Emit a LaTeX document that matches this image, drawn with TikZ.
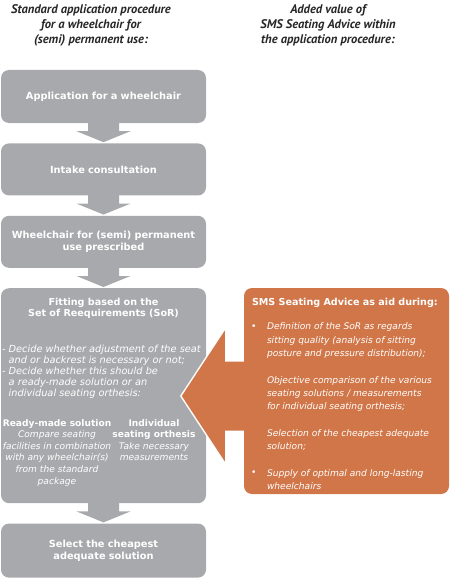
\documentclass[tikz,border=0pt]{standalone}
\usepackage{fontspec}
\setmainfont{DejaVu Sans}
\newfontfamily\headfont{PT Sans}
\usetikzlibrary{positioning}
\definecolor{boxgray}{RGB}{167,169,172}
\definecolor{advorange}{RGB}{208,118,72}

\begin{document}
\begin{tikzpicture}[x=1pt, y=1pt, node distance=20pt,
  stepbox/.style={fill=boxgray, rounded corners=8pt, minimum width=205pt,
    text width=200pt, align=center, text=white, inner sep=0pt,
    font=\bfseries\fontsize{9.8}{11.5}\selectfont},
  head/.style={font=\headfont\bfseries\itshape\fontsize{12.5}{15}\selectfont,
    align=center, text=black!85, inner sep=0pt},
  btitle/.style={text=white, inner sep=0pt, font=\bfseries\fontsize{9.6}{11.5}\selectfont},
  note/.style={text=white, inner sep=0pt, font=\itshape\fontsize{9.8}{11}\selectfont},
  subnote/.style={text=white, inner sep=0pt, align=center, font=\itshape\fontsize{9.1}{11.6}\selectfont},
  advnote/.style={text=white, inner sep=0pt, font=\itshape\fontsize{9.1}{13.3}\selectfont}]
  \useasboundingbox (0,0) rectangle (450,-578);

  % column headers
  \node[head, anchor=north] (lhead) at (91,-4) {Standard application procedure\\ for a wheelchair for\\ (semi) permanent use:};
  \node[head, anchor=north] (rhead) at (328,-4) {Added value of\\ SMS Seating Advice within\\ the application procedure:};

  % standard procedure
  \node[stepbox, minimum height=53pt] (app) at (103.5,-96.5) {Application for a wheelchair};
  \node[stepbox, minimum height=52pt, below=of app] (intake) {Intake consultation};
  \node[stepbox, minimum height=52pt, below=of intake] (presc) {Wheelchair for (semi) permanent\\ use prescribed};
  \node[stepbox, minimum height=215pt, below=of presc] (fit) {};
  \node[stepbox, minimum height=54pt, below=of fit] (select) {Select the cheapest\\ adequate solution};

  \node[btitle, anchor=north, align=center] (fittitle) at ([yshift=-10pt]fit.north) {Fitting based on the\\ Set of Reequirements (SoR)};
  \node[note, anchor=north west, align=left] (decide) at ([shift={(1pt,-56.5pt)}]fit.north west)
    {- Decide whether adjustment of the seat\\
     \phantom{- }and or backrest is necessary or not;\\
     - Decide whether this should be\\
     \phantom{- }a ready-made solution or an\\
     \phantom{- }individual seating orthesis:};
  \node[subnote, anchor=north] (ready) at ([shift={(-46.5pt,-131pt)}]fit.north)
    {{\upshape\bfseries Ready-made solution}\\ Compare seating\\ facilities in combination\\ with any wheelchair(s)\\ from the standard\\ package};
  \node[subnote, anchor=north] (indiv) at ([shift={(50.5pt,-131pt)}]fit.north)
    {{\upshape\bfseries Individual}\\ {\upshape\bfseries seating orthesis}\\ Take necessary\\ measurements};

  \foreach \a/\b in {app/intake, intake/presc, presc/fit, fit/select}
    \fill[boxgray] ([xshift=-15.5pt, yshift=1pt]\a.south) -- ([xshift=-15.5pt, yshift=-8pt]\a.south)
      -- ([xshift=-27pt, yshift=-8pt]\a.south) -- ([yshift=1pt]\b.north)
      -- ([xshift=27pt, yshift=-8pt]\a.south) -- ([xshift=15.5pt, yshift=-8pt]\a.south)
      -- ([xshift=15.5pt, yshift=1pt]\a.south) -- cycle;

  % added value
  \node[fill=advorange, rounded corners=8pt, minimum width=205pt, minimum height=206pt] (adv) at (346.5,-391) {};
  \node[btitle, anchor=north west] (advtitle) at ([shift={(8pt,-10.5pt)}]adv.north west) {SMS Seating Advice as aid during:};
  \node[advnote, anchor=north west, align=left] (advlist) at ([shift={(23pt,-35pt)}]adv.north west)
    {Definition of the SoR as regards\\
     sitting quality (analysis of sitting\\
     posture and pressure distribution);\\[13.3pt]
     Objective comparison of the various\\
     seating solutions / measurements\\
     for individual seating orthesis;\\[13.3pt]
     Selection of the cheapest adequate\\
     solution;\\[13.3pt]
     Supply of optimal and long-lasting\\
     wheelchairs};
  \node[advnote, anchor=base] (bul1) at ([shift={(10pt,-42pt)}]adv.north west) {\textbullet};
  \node[advnote, anchor=base] (bul2) at ([shift={(10pt,-188pt)}]adv.north west) {\textbullet};

  % block arrow into the fitting step
  \draw[white, line width=3pt, line join=miter] ([shift={(-19pt,60.5pt)}]adv.west) -- ([shift={(-62pt,-5pt)}]adv.west)
    -- ([shift={(-19pt,-70.5pt)}]adv.west);
  \fill[advorange] ([shift={(1pt,29.5pt)}]adv.west) -- ([shift={(-19pt,29.5pt)}]adv.west)
    -- ([shift={(-19pt,60.5pt)}]adv.west) -- ([shift={(-62pt,-5pt)}]adv.west)
    -- ([shift={(-19pt,-70.5pt)}]adv.west) -- ([shift={(-19pt,-39.5pt)}]adv.west)
    -- ([shift={(1pt,-39.5pt)}]adv.west) -- cycle;
\end{tikzpicture}
\end{document}
